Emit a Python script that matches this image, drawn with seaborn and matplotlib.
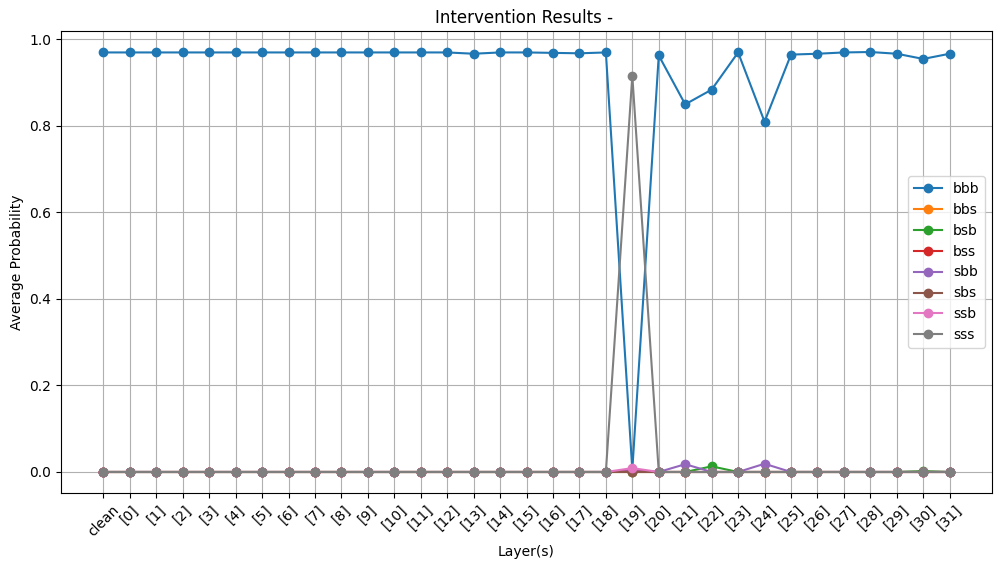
import matplotlib
matplotlib.use("Agg")
import matplotlib.pyplot as plt
import seaborn as sns
import pandas as pd

layers = ["clean"] + [f"[{i}]" for i in range(32)]

bbb = [0.970, 0.970, 0.970, 0.970, 0.970, 0.970, 0.970, 0.970, 0.970, 0.970,
       0.970, 0.970, 0.970, 0.970, 0.967, 0.970, 0.970, 0.969, 0.968, 0.970,
       0.005, 0.963, 0.850, 0.884, 0.970, 0.810, 0.965, 0.967, 0.970, 0.971,
       0.967, 0.955, 0.967]
bbs = [0.0] * 33
bsb = [0.0] * 33
bsb[23] = 0.013
bsb[31] = 0.002
bss = [0.0] * 33
bss[20] = 0.004
sbb = [0.0] * 33
sbb[20] = 0.002
sbb[22] = 0.018
sbb[25] = 0.019
sbs = [0.0] * 33
ssb = [0.0] * 33
ssb[20] = 0.009
sss = [0.0] * 33
sss[20] = 0.916

series_names = ["bbb", "bbs", "bsb", "bss", "sbb", "sbs", "ssb", "sss"]
series_values = [bbb, bbs, bsb, bss, sbb, sbs, ssb, sss]

fig, ax = plt.subplots(figsize=(10.01, 5.69), dpi=100)
fig.subplots_adjust(left=0.061, right=0.991, top=0.9455, bottom=0.1336)

colors = sns.color_palette("tab10", 8)
for name, vals, c in zip(series_names, series_values, colors):
    df = pd.DataFrame({"layer": layers, "p": vals})
    sns.lineplot(data=df, x="layer", y="p", marker="o", color=c, label=name,
                 sort=False, ax=ax, markeredgecolor=c, markeredgewidth=1,
                 markersize=6, linewidth=1.5)

ax.set_title("Intervention Results - ")
ax.set_xlabel("Layer(s)")
ax.set_ylabel("Average Probability")
ax.grid(True, color="#b0b0b0", linewidth=0.8)
ax.set_axisbelow(True)
plt.setp(ax.get_xticklabels(), rotation=45)
ax.set_yticks([0.0, 0.2, 0.4, 0.6, 0.8, 1.0])
ax.legend(loc="center right")

fig.savefig("out.png", dpi=100)
